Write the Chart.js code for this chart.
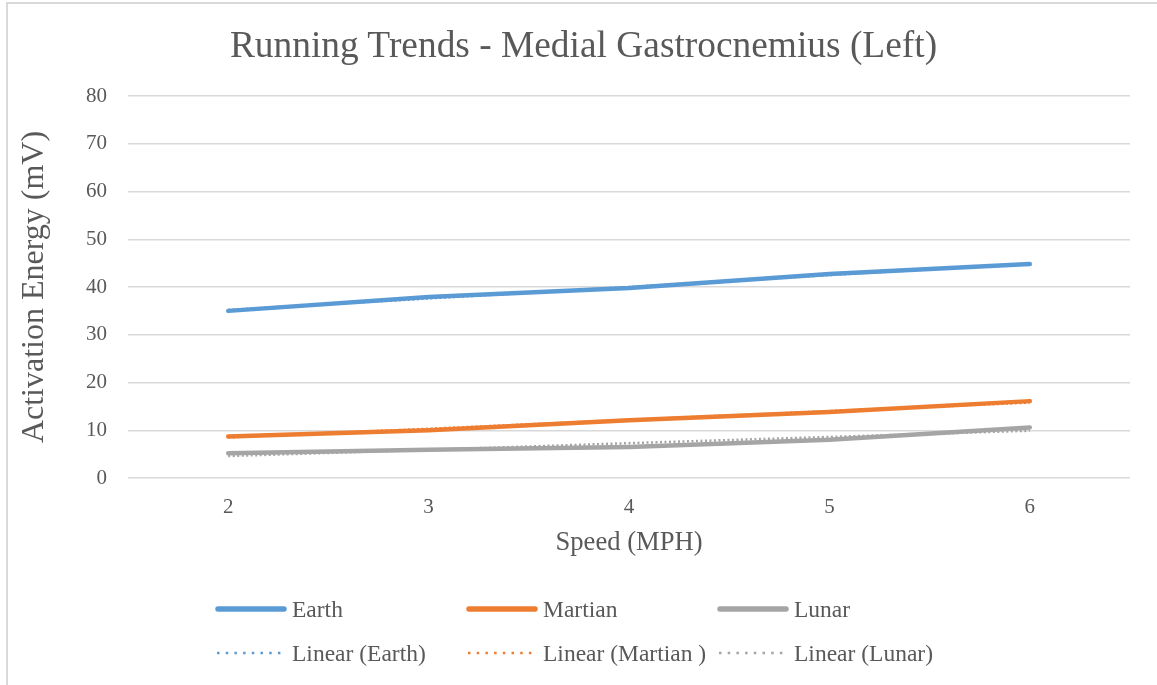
<!DOCTYPE html>
<html>
<head>
<meta charset="utf-8">
<script src="https://cdn.jsdelivr.net/npm/chart.js@4/dist/chart.umd.min.js"></script>
<style>
  html, body { margin: 0; padding: 0; background: #fff; }
  #wrap { position: relative; width: 1157px; height: 685px; overflow: hidden; }
  #frame { position: absolute; left: 6px; top: 2px; width: 1300px; height: 800px;
           border-left: 2px solid #d9d9d9; border-top: 2px solid #d9d9d9; }
  #chart { position: absolute; left: 0; top: 0; }
  #title { position: absolute; left: 283.5px; width: 600px; top: 23px; height: 44px; line-height: 44px;
           text-align: center; white-space: nowrap; display: flex; justify-content: center;
           font-family: 'Liberation Serif', 'Times New Roman', serif; font-size: 37.4px; color: #595959; }
  #legend { position: absolute; left: 215px; top: 590px; width: 900px;
            display: grid; grid-template-columns: 251px 251px 251px; row-gap: 6px;
            font-family: 'Liberation Serif', 'Times New Roman', serif; font-size: 23.5px; color: #595959; }
  .item { display: flex; align-items: center; height: 38px; white-space: nowrap; }
  .item svg { margin-right: 5px; flex: none; }
</style>
</head>
<body>
<div id="wrap">
  <div id="frame"></div>
  <canvas id="chart" width="1157" height="685"></canvas>
  <div id="title"></div>
  <div id="legend"></div>
</div>
<script>
// ── Data ──
var chartTitle = 'Running Trends - Medial Gastrocnemius (Left)';
var speeds = ['2', '3', '4', '5', '6'];
var earth   = [35.0, 37.9, 39.8, 42.7, 44.8];
var martian = [8.7, 10.0, 12.1, 13.8, 16.1];
var lunar   = [5.2, 5.9, 6.5, 8.0, 10.6];
// trendline values
var earthTrend   = [35.2, 37.6, 40.0, 42.5, 44.9];
var martianTrend = [8.5, 10.3, 12.2, 14.0, 15.8];
var lunarTrend   = [4.6, 5.9, 7.3, 8.6, 9.9];
var yTicks = [0, 10, 20, 30, 40, 50, 60, 70, 80];

var C_EARTH = '#5B9BD5', C_MARS = '#ED7D31', C_LUNAR = '#A5A5A5';
var TEXT = '#595959';
var SERIF = "'Liberation Serif', 'Times New Roman', serif";

function solid(label, data, color) {
  return { label: label, data: data, borderColor: color, backgroundColor: color,
           borderWidth: 4.5, borderCapStyle: 'round', borderJoinStyle: 'round',
           pointRadius: 0, tension: 0, order: 1, fill: false };
}
function trend(label, data, color) {
  return { label: label, data: data, borderColor: color, backgroundColor: color,
           borderWidth: 2.5, borderDash: [2, 2.5], borderCapStyle: 'butt',
           pointRadius: 0, tension: 0, order: 0, fill: false, dotted: true };
}

var datasets = [
  solid('Earth', earth, C_EARTH),
  solid('Martian', martian, C_MARS),
  solid('Lunar', lunar, C_LUNAR),
  trend('Linear (Earth)', earthTrend, C_EARTH),
  trend('Linear (Martian )', martianTrend, C_MARS),
  trend('Linear (Lunar)', lunarTrend, C_LUNAR)
];

document.getElementById('title').textContent = chartTitle;

var chart = new Chart(document.getElementById('chart').getContext('2d'), {
  type: 'line',
  data: { labels: speeds, datasets: datasets },
  options: {
    responsive: false,
    animation: false,
    layout: { padding: { left: 15.8, right: 27, top: 96, bottom: 126 } },
    plugins: {
      legend: { display: false },
      tooltip: { enabled: false },
      title: { display: false }
    },
    scales: {
      x: {
        offset: true,
        grid: { display: false, drawTicks: false },
        border: { display: false },
        ticks: { color: TEXT, font: { family: SERIF, size: 21 }, padding: 16.4, maxRotation: 0 },
        title: { display: true, text: 'Speed (MPH)', color: TEXT,
                 font: { family: SERIF, size: 26.6 }, padding: { top: 0, bottom: 0 } },
        afterFit: function(s) { s.height = 81; }
      },
      y: {
        min: 0, max: 80,
        afterBuildTicks: function(s) { s.ticks = yTicks.map(function(v) { return { value: v }; }); },
        grid: { color: '#d9d9d9', lineWidth: 1.5, drawTicks: false },
        border: { display: false },
        ticks: { color: TEXT, font: { family: SERIF, size: 21 }, padding: 21 },
        title: { display: true, text: 'Activation Energy (mV)', color: TEXT,
                 font: { family: SERIF, size: 32 }, padding: { top: 0, bottom: 0 } },
        afterFit: function(s) { s.width = 112.2; }
      }
    }
  }
});

// ── HTML legend built from the datasets ──
var legendEl = document.getElementById('legend');
chart.data.datasets.forEach(function(ds) {
  var item = document.createElement('div');
  item.className = 'item';
  var line = ds.dotted
    ? '<line x1="2" y1="5" x2="70" y2="5" stroke="' + ds.borderColor + '" stroke-width="2.5" stroke-dasharray="2.5 6.2"/>'
    : '<line x1="3" y1="5" x2="69" y2="5" stroke="' + ds.borderColor + '" stroke-width="5.5" stroke-linecap="round"/>';
  item.innerHTML = '<svg width="72" height="10">' + line + '</svg><span>' + ds.label + '</span>';
  legendEl.appendChild(item);
});
</script>
</body>
</html>
